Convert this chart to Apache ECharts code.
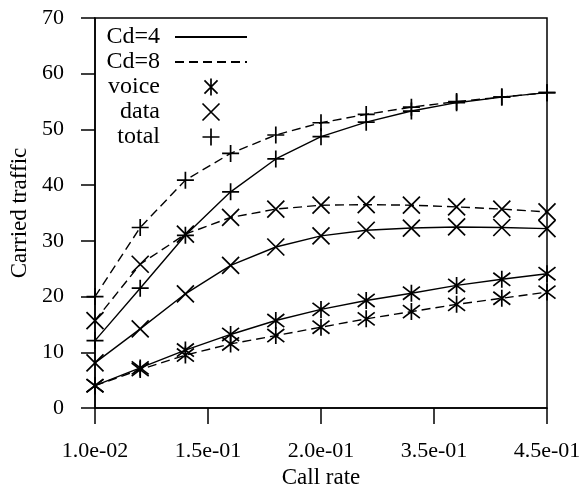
<!DOCTYPE html>
<html>
<head>
<meta charset="utf-8">
<script src="https://cdn.jsdelivr.net/npm/echarts@6/dist/echarts.min.js"></script>
<style>html,body{margin:0;padding:0;background:#fff}#c{width:582px;height:487px}</style>
</head>
<body>
<div id="c"></div>
<script>
// x positions of the 11 measured call rates (evenly spaced in the plot)
var xPos = [0, 1, 2, 3, 4, 5, 6, 7, 8, 9, 10];
var xTickLabels = ['1.0e-02', '1.5e-01', '2.0e-01', '3.5e-01', '4.5e-01'];
var yTicks = [0, 10, 20, 30, 40, 50, 60, 70];

var totalCd4 = [12.1, 21.5, 31.0, 38.8, 44.7, 48.7, 51.3, 53.3, 54.8, 55.8, 56.6];
var totalCd8 = [20.0, 32.4, 40.9, 45.7, 49.0, 51.2, 52.7, 54.0, 55.0, 55.8, 56.6];
var dataCd4  = [8.1, 14.2, 20.5, 25.6, 28.9, 30.9, 31.9, 32.3, 32.5, 32.4, 32.2];
var dataCd8  = [15.7, 25.8, 31.2, 34.2, 35.7, 36.4, 36.5, 36.4, 36.1, 35.7, 35.2];
var voiceCd4 = [4.0, 7.2, 10.4, 13.2, 15.7, 17.7, 19.3, 20.6, 22.0, 23.1, 24.1];
var voiceCd8 = [4.0, 6.9, 9.5, 11.5, 13.0, 14.5, 16.0, 17.3, 18.6, 19.7, 20.8];

var SYM_X = 'path://M0,0L10,10M10,0L0,10';
var SYM_PLUS = 'path://M5,0L5,10M0,5L10,5';
var SYM_STAR = 'path://M0,0L10,10M10,0L0,10M5,-1.5L5,11.5';

function pairs(ys) { return xPos.map(function (x, i) { return [x, ys[i]]; }); }

var FONT = 'Liberation Serif';
var dash = [9, 5];
var markStyle = { color: 'rgba(0,0,0,0)', borderColor: '#000', borderWidth: 1.7 };
var hidden = { color: 'rgba(0,0,0,0)', borderColor: 'rgba(0,0,0,0)', borderWidth: 0 };

function dataSeries(ys, sym, dashed) {
  return {
    type: 'line', data: pairs(ys), symbol: sym, symbolSize: 17,
    clip: false, silent: true,
    itemStyle: markStyle,
    lineStyle: { color: '#000', width: 1.4, type: dashed ? dash : 'solid' },
    z: 3
  };
}
function legendSeries(name, sym, dashed) {
  return {
    name: name, type: 'line', data: [], symbol: sym || 'none', symbolSize: 17,
    itemStyle: sym ? markStyle : hidden,
    lineStyle: { color: '#000', width: 1.4, type: dashed ? dash : 'solid' }
  };
}

var chart = echarts.init(document.getElementById('c'), null, { renderer: 'canvas' });
chart.setOption({
  animation: false,
  backgroundColor: '#fff',
  grid: { left: 95, right: 35, top: 18, bottom: 79, outerBoundsMode: 'none', containLabel: false,
    show: true, borderColor: '#000', borderWidth: 1.5, backgroundColor: 'transparent' },
  legend: {
    orient: 'vertical', left: 97, top: 20, align: 'right',
    itemWidth: 72, itemHeight: 17, itemGap: 1,
    selectedMode: false,
    textStyle: { fontFamily: FONT, fontSize: 24, color: '#000', lineHeight: 21,
      rich: { t: { fontFamily: FONT, fontSize: 24, color: '#000', lineHeight: 21, width: 58, align: 'right', padding: [0, 10, 0, 0] } } },
    formatter: function (n) { return '{t|' + n + '}'; },
    data: [
      { name: 'Cd=4', itemStyle: hidden },
      { name: 'Cd=8', itemStyle: hidden },
      { name: 'voice', icon: SYM_STAR, itemStyle: markStyle },
      { name: 'data', icon: SYM_X, itemStyle: markStyle },
      { name: 'total', icon: SYM_PLUS, itemStyle: markStyle }
    ]
  },
  xAxis: {
    type: 'value', min: 0, max: 10, interval: 2.5,
    name: 'Call rate', nameLocation: 'middle', nameGap: 53,
    nameTextStyle: { fontFamily: FONT, fontSize: 23, color: '#000' },
    axisLine: { show: true, lineStyle: { color: '#000', width: 1.5 } },
    axisTick: { show: true, inside: false, length: 16, lineStyle: { color: '#000', width: 1.5 } },
    axisLabel: { fontFamily: FONT, fontSize: 22, color: '#000', margin: 32,
      formatter: function (v) { return xTickLabels[Math.round(v / 2.5)]; } },
    splitLine: { show: false }
  },
  yAxis: {
    type: 'value', min: yTicks[0], max: yTicks[yTicks.length - 1], interval: 10,
    name: 'Carried traffic', nameLocation: 'middle', nameGap: 62,
    nameTextStyle: { fontFamily: FONT, fontSize: 23, color: '#000' },
    axisLine: { show: true, lineStyle: { color: '#000', width: 1.5 } },
    axisTick: { show: true, inside: false, length: 14, lineStyle: { color: '#000', width: 1.5 } },
    axisLabel: { fontFamily: FONT, fontSize: 22, color: '#000', margin: 31 },
    splitLine: { show: false }
  },
  series: [
    dataSeries(totalCd4, SYM_PLUS, false),
    dataSeries(totalCd8, SYM_PLUS, true),
    dataSeries(dataCd4, SYM_X, false),
    dataSeries(dataCd8, SYM_X, true),
    dataSeries(voiceCd4, SYM_STAR, false),
    dataSeries(voiceCd8, SYM_STAR, true),
    legendSeries('Cd=4', null, false),
    legendSeries('Cd=8', null, true),
    legendSeries('voice', SYM_STAR, false),
    legendSeries('data', SYM_X, false),
    legendSeries('total', SYM_PLUS, false)
  ]
});
</script>
</body>
</html>
